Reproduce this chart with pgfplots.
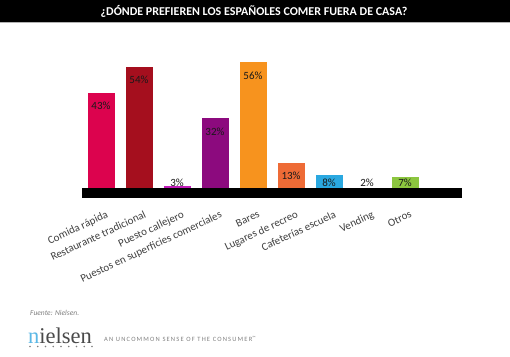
\documentclass[border=0pt]{standalone}
\usepackage{fontspec}
\setmainfont{Carlito}
\newfontfamily\logofont{Liberation Serif}
\usepackage{pgfplots}
\pgfplotsset{compat=1.18}
\definecolor{c1}{HTML}{DC034E}
\definecolor{c2}{HTML}{A50F1E}
\definecolor{c3}{HTML}{C21DBA}
\definecolor{c4}{HTML}{8C0A7E}
\definecolor{c5}{HTML}{F7931E}
\definecolor{c6}{HTML}{EE6B36}
\definecolor{c7}{HTML}{2AA8E0}
\definecolor{c8}{HTML}{9E9E9E}
\definecolor{c9}{HTML}{8CC63F}
\definecolor{lbl}{HTML}{404040}
\definecolor{logoblue}{HTML}{5BB8E6}
\definecolor{logogray}{HTML}{4A4A4A}
\begin{document}
\begin{tikzpicture}
\useasboundingbox (0pt,0pt) rectangle (510pt,356pt);
\fill[white] (0pt,0pt) rectangle (510pt,356pt);
\fill[black] (0pt,333.5pt) rectangle (510pt,356pt);
\draw[gray!60, line width=1pt] (0pt,333pt) -- (510pt,333pt);
\node[text=white, font=\bfseries\fontsize{12}{14}\selectfont, inner sep=0pt] at (254pt,345pt) {¿DÓNDE PREFIEREN LOS ESPAÑOLES COMER FUERA DE CASA?};
\begin{axis}[
  at={(82pt,162.7pt)}, anchor=south west,
  scale only axis, width=380pt, height=140.4pt,
  xmin=-0.5, xmax=9.5, ymin=0, ymax=60,
  axis x line*=bottom, axis y line=none,
  x axis line style={line width=9.7pt, black},
  axis on top,
  ytick=\empty,
  xtick={0,...,8},
  xticklabels={Comida rápida,Restaurante tradicional,Puesto callejero,Puestos en superficies comerciales,Bares,Lugares de recreo,Cafeterías escuela,Vending,Otros},
  major tick length=0pt,
  xticklabel style={rotate=25, anchor=north east, inner sep=0pt, yshift=-17pt, xshift=-3pt, text=lbl, font=\fontsize{11}{13}\selectfont},
  clip=false,
  every node near coord/.append style={anchor=center, text=black!90, font=\fontsize{11}{13}\selectfont},
]
\addplot[ybar, bar width=27pt, bar shift=0pt, fill=c1, draw=none] coordinates {(0,43)};
\addplot[ybar, bar width=27pt, bar shift=0pt, fill=c2, draw=none] coordinates {(1,54)};
\addplot[ybar, bar width=27pt, bar shift=0pt, fill=c3, draw=none] coordinates {(2,3)};
\addplot[ybar, bar width=27pt, bar shift=0pt, fill=c4, draw=none] coordinates {(3,32)};
\addplot[ybar, bar width=27pt, bar shift=0pt, fill=c5, draw=none] coordinates {(4,56)};
\addplot[ybar, bar width=27pt, bar shift=0pt, fill=c6, draw=none] coordinates {(5,13)};
\addplot[ybar, bar width=27pt, bar shift=0pt, fill=c7, draw=none] coordinates {(6,8)};
\addplot[ybar, bar width=27pt, bar shift=0pt, fill=c8, draw=none] coordinates {(7,2)};
\addplot[ybar, bar width=27pt, bar shift=0pt, fill=c9, draw=none] coordinates {(8,7)};
\addplot[draw=none, mark=none, nodes near coords, point meta=explicit symbolic] coordinates {
(0,37.4)[43\%] (1,48.4)[54\%] (2,4.4)[3\%] (3,26.4)[32\%] (4,50.4)[56\%] (5,7.4)[13\%] (6,4.4)[8\%] (7,4.4)[2\%] (8,4.4)[7\%]};
\end{axis}
\node[anchor=west, inner sep=0pt, text=gray, font=\itshape\fontsize{7.5}{9}\selectfont] at (30pt,43pt) {Fuente: Nielsen.};
\node[anchor=base west, inner sep=0pt, font=\logofont\fontsize{22.5}{24}\selectfont] at (28pt,13pt) {\textcolor{logoblue}{n}\textcolor{logogray}{ielsen}};
\draw[gray, line width=1.6pt, line cap=round, dash pattern=on 0pt off 7.75pt] (30pt,9.5pt) -- (93pt,9.5pt);
\node[anchor=west, inner sep=0pt, text=gray, font=\fontsize{6.5}{8}\selectfont\addfontfeatures{LetterSpace=18}] at (104pt,17pt) {AN UNCOMMON SENSE OF THE CONSUMER\textsuperscript{™}};
\end{tikzpicture}
\end{document}
